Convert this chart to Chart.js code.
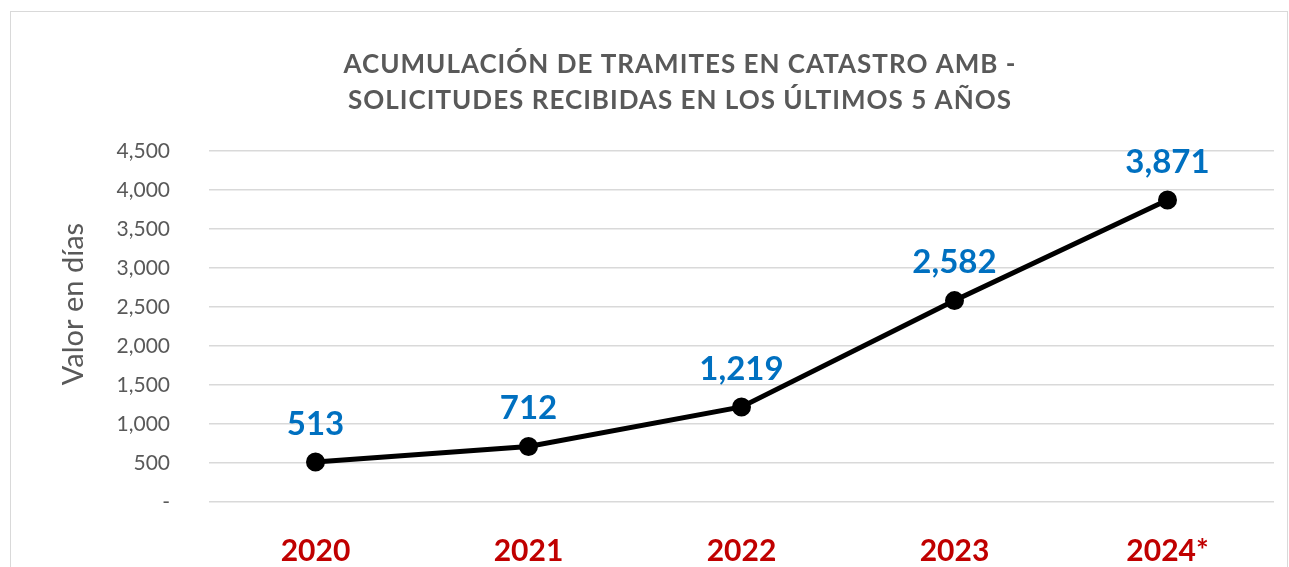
<!DOCTYPE html>
<html>
<head>
<meta charset="utf-8">
<script src="https://cdn.jsdelivr.net/npm/chart.js@4.4.1/dist/chart.umd.min.js"></script>
<style>
  html, body { margin: 0; padding: 0; background: #fff; }
  #wrap { position: relative; width: 1289px; height: 567px; overflow: hidden; }
  #frame { position: absolute; left: 10px; top: 11px; width: 1276px; height: 620px; border: 1px solid #d9d9d9; }
  #chart { position: absolute; left: 0; top: 0; }
</style>
</head>
<body>
<div id="wrap">
  <div id="frame"></div>
  <canvas id="chart" width="1289" height="567"></canvas>
</div>
<script>
// Solicitudes acumuladas por año (2024 parcial)
const years = ['2020', '2021', '2022', '2023', '2024*'];
const solicitudes = [513, 712, 1219, 2582, 3871];
const yTickValues = [0, 500, 1000, 1500, 2000, 2500, 3000, 3500, 4000, 4500];
const yTickLabels = ['-', '500', '1,000', '1,500', '2,000', '2,500', '3,000', '3,500', '4,000', '4,500'];
const titleLines = [
  'ACUMULACIÓN DE TRAMITES EN CATASTRO AMB -',
  'SOLICITUDES RECIBIDAS EN LOS ÚLTIMOS 5 AÑOS'
];
const yAxisTitle = 'Valor en días';

const GRAY_TEXT = '#595959';
const GRID = '#d9d9d9';
const VALUE_BLUE = '#0070c0';
const YEAR_RED = '#c00000';
const FONT = 'Lato, "Open Sans", sans-serif';

// two-line heading and the rotated y-axis caption
const headingPlugin = {
  id: 'heading',
  afterDraw(chart) {
    const ctx = chart.ctx;
    ctx.save();
    ctx.fillStyle = GRAY_TEXT;
    ctx.font = 'bold 26px ' + FONT;
    ctx.letterSpacing = '1px';
    ctx.textAlign = 'center';
    ctx.textBaseline = 'middle';
    titleLines.forEach((line, i) => ctx.fillText(line, 680, 65 + i * 36));
    ctx.restore();

    ctx.save();
    ctx.fillStyle = GRAY_TEXT;
    ctx.font = '29px ' + FONT;
    ctx.textAlign = 'center';
    ctx.textBaseline = 'middle';
    ctx.translate(74, 304);
    ctx.rotate(-Math.PI / 2);
    ctx.fillText(yAxisTitle, 0, 0);
    ctx.restore();
  }
};

// value labels above each point of the main series
const valueLabels = {
  id: 'valueLabels',
  afterDatasetsDraw(chart) {
    const meta = chart.getDatasetMeta(0);
    const ctx = chart.ctx;
    ctx.save();
    ctx.fillStyle = VALUE_BLUE;
    ctx.font = 'bold 33px ' + FONT;
    ctx.textAlign = 'center';
    ctx.textBaseline = 'middle';
    meta.data.forEach((pt, i) => {
      const v = chart.data.datasets[0].data[i];
      ctx.fillText(v.toLocaleString('en-US'), pt.x, pt.y - 38);
    });
    ctx.restore();
  }
};

new Chart(document.getElementById('chart'), {
  type: 'line',
  data: {
    labels: years,
    datasets: [
      {
        data: solicitudes,
        borderColor: '#000',
        borderWidth: 5,
        pointRadius: 8,
        pointBorderWidth: 3,
        pointBackgroundColor: '#000',
        pointBorderColor: '#000',
        tension: 0
      },
      {
        // small blue centre of each marker
        data: solicitudes,
        showLine: false,
        pointRadius: 2,
        pointBorderWidth: 0,
        pointBackgroundColor: '#5b9bd5'
      }
    ]
  },
  options: {
    responsive: false,
    animation: false,
    layout: { padding: { top: 151, right: 15, bottom: 0, left: 0 } },
    plugins: {
      legend: { display: false },
      tooltip: { enabled: false },
      title: { display: false }
    },
    scales: {
      x: {
        offset: true,
        grid: { display: false, drawTicks: false },
        border: { display: false },
        ticks: {
          color: YEAR_RED,
          font: { family: FONT, size: 30, weight: 'bold' },
          padding: 31,
          maxRotation: 0
        },
        afterFit(scale) { scale.height = 65; }
      },
      y: {
        min: 0,
        max: 4500,
        afterBuildTicks(scale) { scale.ticks = yTickValues.map(v => ({ value: v })); },
        grid: { color: GRID, lineWidth: 1.5, drawTicks: false },
        border: { display: false },
        ticks: {
          color: GRAY_TEXT,
          font: { family: FONT, size: 21 },
          padding: 39,
          callback: (v) => yTickLabels[yTickValues.indexOf(v)]
        },
        afterFit(scale) { scale.width = 209; }
      }
    }
  },
  plugins: [headingPlugin, valueLabels]
});
</script>
</body>
</html>
